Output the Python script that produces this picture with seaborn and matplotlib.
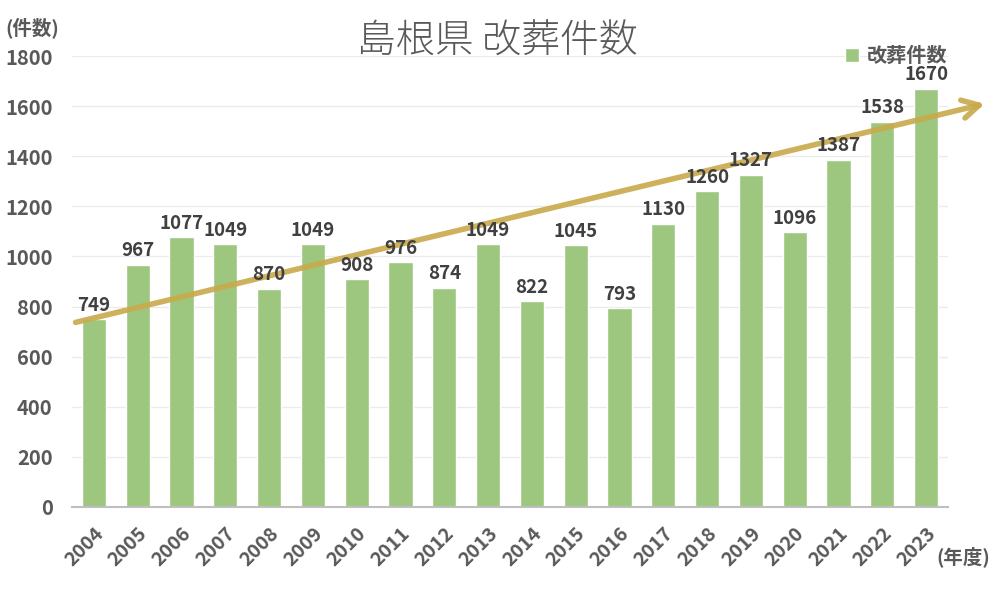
import numpy as np
import pandas as pd
import matplotlib
matplotlib.use('Agg')
import matplotlib.pyplot as plt
import seaborn as sns

years = ['2004', '2005', '2006', '2007', '2008', '2009', '2010', '2011', '2012', '2013',
         '2014', '2015', '2016', '2017', '2018', '2019', '2020', '2021', '2022', '2023']
counts = [749, 967, 1077, 1049, 870, 1049, 908, 976, 874, 1049,
          822, 1045, 793, 1130, 1260, 1327, 1096, 1387, 1538, 1670]
yticks = [0, 200, 400, 600, 800, 1000, 1200, 1400, 1600, 1800]
series_name = '改葬件数'
title = '島根県 改葬件数'

sns.set_theme(style='white')
plt.rcParams['font.family'] = ['Noto Sans CJK JP', 'DejaVu Sans']

df = pd.DataFrame({'year': years, 'count': counts})

fig = plt.figure(figsize=(10, 5.97), dpi=100)
ax = fig.add_axes([0.072, 0.151, 0.876, 0.755])

bar_col = '#9DC77F'
txt_col = '#595959'
sns.barplot(data=df, x='year', y='count', color=bar_col, width=0.55,
            saturation=1, ax=ax, label=series_name)

ax.set_ylim(0, 1800)
ax.set_xlim(-0.5, len(years) - 0.5)
ax.set_yticks(yticks)
ax.yaxis.grid(True, color='#EBEBEB', lw=1)
ax.set_axisbelow(True)
for s in ['top', 'right', 'left']:
    ax.spines[s].set_visible(False)
ax.spines['bottom'].set_color('#BFBFBF')
ax.spines['bottom'].set_linewidth(1.5)

ax.set_xlabel('')
ax.set_ylabel('')
ax.tick_params(axis='y', length=0, labelsize=14.5, labelcolor=txt_col, pad=14)
ax.tick_params(axis='x', which='major', length=0, labelsize=14, labelcolor=txt_col, pad=12)
ax.set_xticks(np.arange(-0.5, len(years), 1), minor=True)
ax.tick_params(axis='x', which='minor', length=6, width=1.5, color='#BFBFBF', direction='out')
for lab in ax.get_yticklabels():
    lab.set_fontweight('bold')
for lab in ax.get_xticklabels():
    lab.set_fontweight('bold')
    lab.set_rotation(45)
    lab.set_ha('right')
    lab.set_rotation_mode('anchor')

# trend arrow (above bars, below the value labels)
ax.annotate('', xy=(20.4, 1612), xytext=(-0.48, 734), annotation_clip=False,
            zorder=4,
            arrowprops=dict(arrowstyle='->,head_length=1.0,head_width=0.55',
                            color='#C9A94B', lw=4, alpha=0.9))

for i, v in enumerate(counts):
    ax.text(i, v + 18, str(v), ha='center', va='bottom', fontsize=13.5,
            fontweight='bold', color='#404040', zorder=6)

fig.text(0.497, 0.93, title, ha='center', va='center', fontsize=28,
         color=txt_col, fontweight=200)
fig.text(0.005, 0.953, '(件数)', ha='left', va='center', fontsize=14,
         color=txt_col, fontweight='bold')
fig.text(0.936, 0.068, '(年度)', ha='left', va='center', fontsize=14,
         color=txt_col, fontweight='bold')

leg = ax.legend(loc='upper right', bbox_to_anchor=(1.02, 1.065), frameon=False,
                handlelength=0.7, handleheight=0.7, handletextpad=0.4,
                prop={'size': 14.5, 'weight': 'bold'})
for t in leg.get_texts():
    t.set_color(txt_col)

fig.savefig('out.png', dpi=100)
